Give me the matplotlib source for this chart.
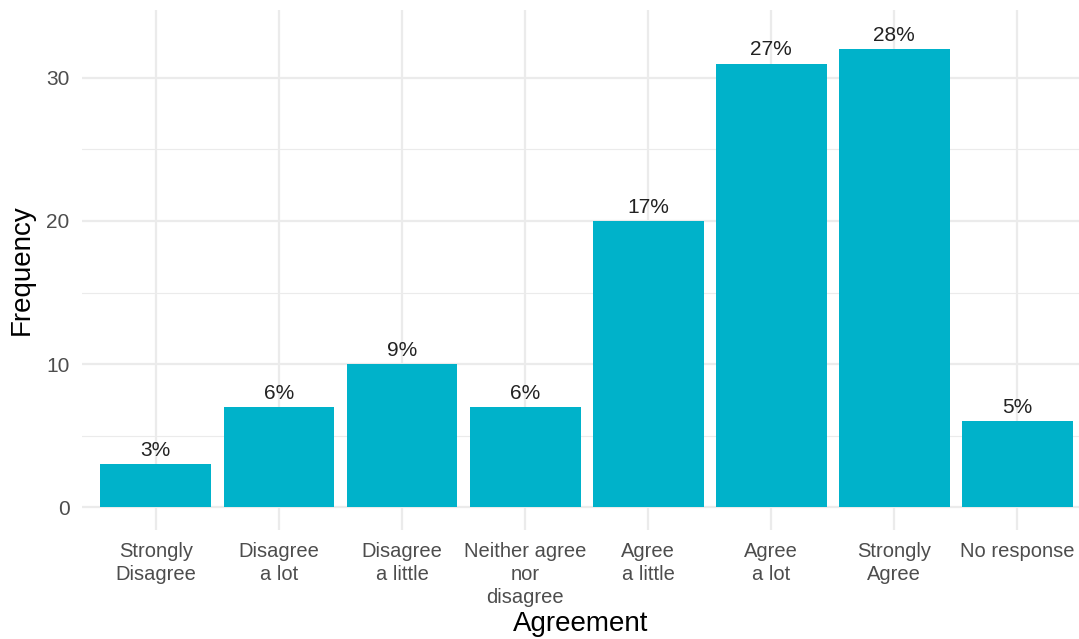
import matplotlib
matplotlib.use('Agg')
from matplotlib import pyplot as plt
from matplotlib.ticker import MultipleLocator


categories = ['Strongly\nDisagree', 'Disagree\na lot', 'Disagree\na little',
              'Neither agree\nnor\ndisagree', 'Agree\na little', 'Agree\na lot',
              'Strongly\nAgree', 'No response']
frequency = [3, 7, 10, 7, 20, 31, 32, 6]
percent_labels = ['3%', '6%', '9%', '6%', '17%', '27%', '28%', '5%']

BAR_COLOUR = '#00b2ca'
GRID_COLOUR = '#ebebeb'

plt.rcParams['font.family'] = ['Liberation Sans', 'DejaVu Sans']

figure = plt.figure(figsize=(10.79, 6.39), dpi=100)
ax = figure.add_axes([0.076, 0.1706, 0.924, 0.8138])

positions = list(range(1, len(categories) + 1))
ax.bar(positions, frequency, width=0.9, color=BAR_COLOUR, zorder=2)

for pos, value, label in zip(positions, frequency, percent_labels):
    ax.annotate(label, (pos, value), xytext=(0, 3), textcoords='offset points',
                ha='center', va='bottom', fontsize=15, color='#222222')

ax.set_xlim(0.4, 8.5)
ax.set_ylim(-1.6, 34.75)
ax.set_xticks(positions)
ax.set_xticklabels(categories, fontsize=14.5, color='#4d4d4d', linespacing=1.25)
ax.yaxis.set_major_locator(MultipleLocator(10))
ax.yaxis.set_minor_locator(MultipleLocator(5))
ax.tick_params(axis='y', labelsize=15, labelcolor='#4d4d4d', length=0, pad=9)
ax.tick_params(axis='y', which='minor', length=0)
ax.tick_params(axis='x', length=0, pad=9)

ax.grid(True, which='major', color=GRID_COLOUR, linewidth=1.6, zorder=0)
ax.grid(True, which='minor', axis='y', color=GRID_COLOUR, linewidth=0.8, zorder=0)
ax.set_axisbelow(True)
for spine in ax.spines.values():
    spine.set_visible(False)

ax.set_xlabel('Agreement', fontsize=20, labelpad=3)
ax.set_ylabel('Frequency', fontsize=20, labelpad=8)

figure.savefig('out.png', dpi=100)
